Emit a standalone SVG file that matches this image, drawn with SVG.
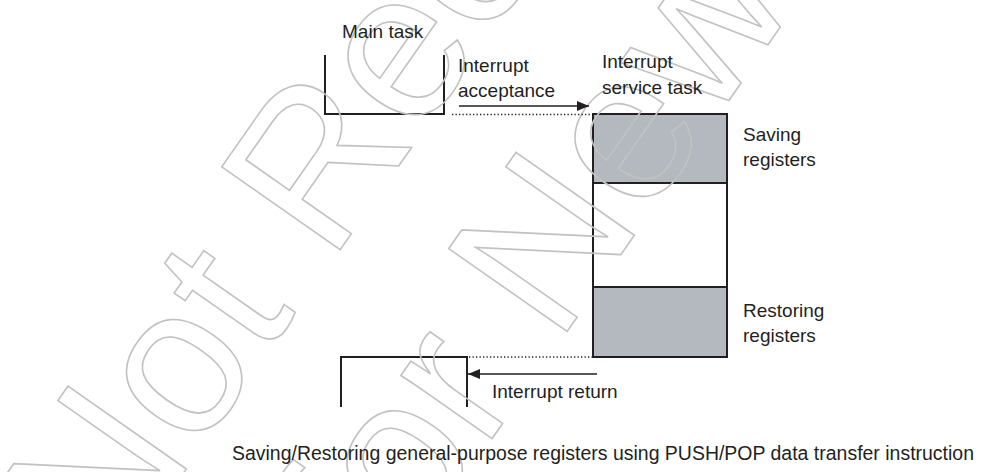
<svg xmlns="http://www.w3.org/2000/svg" width="986" height="472" viewBox="0 0 986 472">
<defs>
<style>
.t{font-family:"Liberation Sans",Arial,sans-serif;font-size:19px;fill:#231f20}
.cap{font-size:19.6px}
.ln{fill:none;stroke:#231f20;stroke-width:2}
.blk{fill:#b4b9c0;stroke:#231f20;stroke-width:2}
.wht{fill:#ffffff;stroke:#231f20;stroke-width:2}
.dot{fill:none;stroke:#231f20;stroke-width:1.3;stroke-dasharray:1.3 2.2}
.arr{fill:none;stroke:#231f20;stroke-width:1.6}
.wm{font-family:"Liberation Sans",Arial,sans-serif;font-size:210px;fill:none;stroke:#c2c2c2;stroke-width:1.6}
</style>
<marker id="ah" viewBox="0 0 12 10" refX="12" refY="5" markerWidth="12" markerHeight="10" markerUnits="userSpaceOnUse" orient="auto">
<path d="M0,0 L12,5 L0,10 z" fill="#231f20"/>
</marker>
</defs>
<rect width="986" height="472" fill="#ffffff"/>

<g id="main-task">
<path class="ln" d="M325,55 V114 H444 V55"/>
</g>
<g id="isr-stack">
<rect class="blk" x="593" y="114" width="134" height="69"/>
<rect class="wht" x="593" y="183" width="134" height="104"/>
<rect class="blk" x="593" y="287" width="134" height="70"/>
</g>
<g id="return-task">
<path class="ln" d="M341,407 V357 H467 V407"/>
</g>

<g id="watermark" transform="translate(109.3,579.2) rotate(-55)">
<text class="wm" x="0" y="0">Not Recommended</text>
<text class="wm" x="145" y="233">for New Design</text>
</g>

<g id="connectors">
<line class="dot" x1="452" y1="114.5" x2="592" y2="114.5"/>
<line class="arr" x1="459" y1="106" x2="589" y2="106" marker-end="url(#ah)"/>
<line class="dot" x1="469" y1="357" x2="592" y2="357"/>
<line class="arr" x1="597" y1="374" x2="468" y2="374" marker-end="url(#ah)"/>
</g>

<g id="labels">
<text class="t" x="342" y="38">Main task</text>
<text class="t" x="458" y="72">Interrupt</text>
<text class="t" x="458" y="97">acceptance</text>
<text class="t" x="602" y="68">Interrupt</text>
<text class="t" x="602" y="94">service task</text>
<text class="t" x="743" y="141">Saving</text>
<text class="t" x="743" y="166">registers</text>
<text class="t" x="743" y="317">Restoring</text>
<text class="t" x="743" y="342">registers</text>
<text class="t" x="492" y="398">Interrupt return</text>
<text class="t cap" x="232" y="460" textLength="742" lengthAdjust="spacingAndGlyphs">Saving/Restoring general-purpose registers using PUSH/POP data transfer instruction</text>
</g>
</svg>
